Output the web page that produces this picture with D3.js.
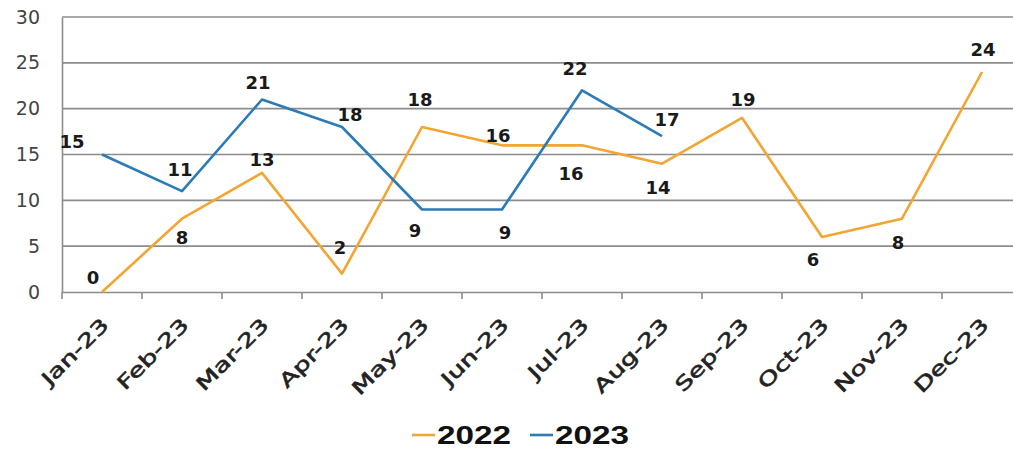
<!DOCTYPE html>
<html>
<head>
<meta charset="utf-8">
<script src="https://cdn.jsdelivr.net/npm/d3@7"></script>
<style>
  body { margin: 0; background: #fff; }
  svg { display: block; }
</style>
</head>
<body>
<div id="chart_div"></div>
<script>
// chart values
const months = ["Jan-23","Feb-23","Mar-23","Apr-23","May-23","Jun-23","Jul-23","Aug-23","Sep-23","Oct-23","Nov-23","Dec-23"]
const values2022 = [0, 8, 13, 2, 18, 16, 16, 14, 19, 6, 8, 24]
const values2023 = [15, 11, 21, 18, 9, 9, 22, 17]
const yTicks = [0, 5, 10, 15, 20, 25, 30]
const seriesNames = ["2022", "2023"]

// label nudges (like the manually moved excel labels), in px
const labelOffsets2022 = [[-9,-14],[0,19],[0,-13],[-2,-26],[-2,-27],[-4,-10],[-11,28],[-4,24],[1,-18],[-9,23],[-4,24],[1,-22]]
const labelOffsets2023 = [[-30,-13],[-2,-21],[-4,-17],[8,-12],[-7,21],[3,23],[-7,-22],[5,-16]]

const orange = "#F2A531"
const blue = "#2B7BB7"

const W = 1013, H = 452
const margin = {top: 17, right: -9, bottom: 160, left: 62},
  width = W - margin.left - margin.right,
  height = H - margin.top - margin.bottom;

const svg = d3.select("#chart_div")
  .append("svg")
  .attr("width", W)
  .attr("height", H)
  .attr("viewBox", `0 0 ${W} ${H}`)
  .append("g")
  .attr("transform", `translate(${margin.left},${margin.top})`);

const x = d3.scaleBand()
  .domain(months)
  .range([0, width])
  .paddingInner(0)

const y = d3.scaleLinear()
  .domain([0, 30])
  .range([height, 0])

// gridlines
svg.append("g")
  .selectAll("line")
  .data(yTicks.filter(d => d > 0))
  .join("line")
  .attr("x1", 0)
  .attr("x2", width)
  .attr("y1", d => y(d))
  .attr("y2", d => y(d))
  .attr("stroke", "#8c8c8c")
  .attr("stroke-width", 1.6)

// y axis
const yAxis = svg.append("g")
  .call(d3.axisLeft(y).tickValues(yTicks).tickSize(0).tickPadding(22))
yAxis.select(".domain").attr("stroke", "#8c8c8c").attr("stroke-width", 1.6)
yAxis.selectAll("text")
  .attr("font-family", "'DejaVu Sans', sans-serif")
  .attr("font-size", 19)
  .attr("fill", "#444")

// x axis
const xAxis = svg.append("g")
  .attr("transform", `translate(0, ${height})`)
  .call(d3.axisBottom(x).tickSize(0).tickFormat(""))
xAxis.select(".domain").attr("stroke", "#8c8c8c").attr("stroke-width", 1.6)

// ticks between categories
xAxis.selectAll(".sep")
  .data(months)
  .join("line")
  .attr("class", "sep")
  .attr("x1", d => x(d))
  .attr("x2", d => x(d))
  .attr("y1", 0)
  .attr("y2", 7)
  .attr("stroke", "#8c8c8c")
  .attr("stroke-width", 1.6)

// month labels, a bit stretched along the text to get the wide look
xAxis.selectAll(".mlabel")
  .data(months)
  .join("text")
  .attr("class", "mlabel")
  .attr("text-anchor", "end")
  .attr("font-family", "'DejaVu Sans', sans-serif")
  .attr("font-size", 19)
  .attr("fill", "#222")
  .attr("stroke", "#222")
  .attr("stroke-width", 0.6)
  .attr("transform", d => `translate(${x(d) + x.bandwidth()/2 + 8}, ${34}) rotate(-45) scale(1.42, 1)`)
  .text(d => d)

const line = d3.line()
  .x((d, i) => x(months[i]) + x.bandwidth()/2)
  .y(d => y(d))

// 2022 line
svg.append("path")
  .datum(values2022)
  .attr("fill", "none")
  .attr("stroke", orange)
  .attr("stroke-width", 2.6)
  .attr("stroke-linejoin", "round")
  .attr("d", line)

// 2023 line
svg.append("path")
  .datum(values2023)
  .attr("fill", "none")
  .attr("stroke", blue)
  .attr("stroke-width", 2.6)
  .attr("stroke-linejoin", "round")
  .attr("d", line)

// data labels
const addLabels = (values, offsets) => {
  svg.append("g")
    .selectAll("text")
    .data(values)
    .join("text")
    .attr("text-anchor", "middle")
    .attr("dy", ".35em")
    .attr("font-family", "'DejaVu Sans', sans-serif")
    .attr("font-weight", "bold")
    .attr("font-size", 18)
    .attr("fill", "#1a1a1a")
    .attr("x", (d, i) => x(months[i]) + x.bandwidth()/2 + offsets[i][0])
    .attr("y", (d, i) => y(d) + offsets[i][1])
    .text(d => d)
}
addLabels(values2022, labelOffsets2022)
addLabels(values2023, labelOffsets2023)

// legend
const legend = d3.select("svg").append("g")
  .attr("transform", "translate(412, 435)")
const legendItems = [{name: seriesNames[0], color: orange, x: 0}, {name: seriesNames[1], color: blue, x: 118}]
legendItems.forEach(d => {
  legend.append("line")
    .attr("x1", d.x).attr("x2", d.x + 23)
    .attr("y1", 0).attr("y2", 0)
    .attr("stroke", d.color)
    .attr("stroke-width", 2.6)
  legend.append("text")
    .attr("transform", `translate(${d.x + 25}, 0) scale(1.33, 1)`)
    .attr("dy", ".35em")
    .attr("font-family", "'Liberation Sans', Arial, sans-serif")
    .attr("font-weight", "bold")
    .attr("font-size", 25)
    .attr("fill", "#111")
    .text(d.name)
})
</script>
</body>
</html>
